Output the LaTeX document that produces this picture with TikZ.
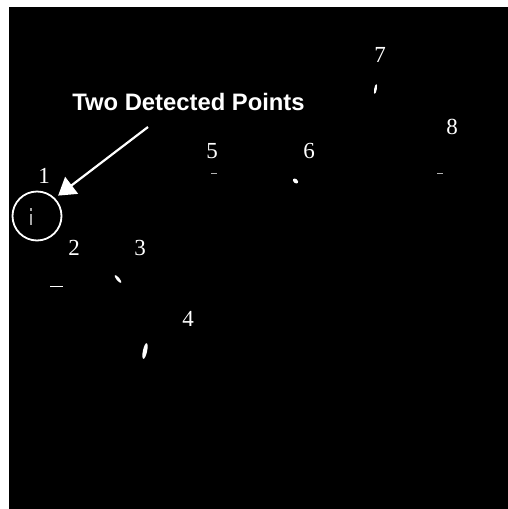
\documentclass[tikz,border=0pt]{standalone}
\usepackage{fontspec}
\setmainfont{Liberation Serif}
\newfontfamily\rotulofont{Liberation Sans}
\usetikzlibrary{arrows.meta}

\begin{document}
\begin{tikzpicture}[x=1pt, y=-1pt,
	marca/.style={text=white, inner sep=0pt, font=\fontsize{23}{23}\selectfont},
	titulo/.style={text=white, inner sep=0pt, font=\rotulofont\bfseries\fontsize{23.8}{23.8}\selectfont},
	anel/.style={draw=white, line width=1.8pt, circle, minimum size=49pt, inner sep=0pt},
	seta/.style={draw=white, line width=2.2pt, -{Triangle[length=17pt, width=21pt]}, shorten >=4pt},
	ponto/.style={fill=white}
	]
	% fundo
	\useasboundingbox (0,0) rectangle (508,509);
	\fill[white] (0,0) rectangle (508,509);
	\fill[black] (9,7) rectangle (508,509);

	% rotulos dos pontos
	\node[marca] (n1) at (44,176) {1};
	\node[marca] (n2) at (74,248) {2};
	\node[marca] (n3) at (140,248) {3};
	\node[marca] (n4) at (188,319) {4};
	\node[marca] (n5) at (212,151) {5};
	\node[marca] (n6) at (309,151) {6};
	\node[marca] (n7) at (380,55) {7};
	\node[marca] (n8) at (452,127) {8};

	% pontos detectados
	\fill[gray!70] (30.3,208) rectangle (31.8,211);
	\fill[gray!70] (30.3,214) rectangle (31.8,225);
	\fill[ponto] (50,285.5) rectangle (63,286.6);
	\fill[ponto, rotate around={-50:(118,279)}] (118,279) ellipse (5pt and 1.5pt);
	\fill[ponto, rotate around={78:(145,351)}] (145,351) ellipse (8pt and 2.1pt);
	\fill[gray!60] (211,172.5) rectangle (217,174);
	\fill[ponto, rotate around={-40:(295.5,181)}] (295.5,181) ellipse (3pt and 2pt);
	\fill[ponto, rotate around={80:(375.5,89)}] (375.5,89) ellipse (5pt and 1.3pt);
	\fill[gray!60] (437,173) rectangle (443,174.3);

	% destaque
	\node[anel] (anel) at (37,216) {};
	\node[titulo] (titulo) at (188.5,102) {Two Detected Points};
	\coordinate (cauda) at (148,127);
	\draw[seta] (cauda) -- (anel.45);
\end{tikzpicture}
\end{document}
